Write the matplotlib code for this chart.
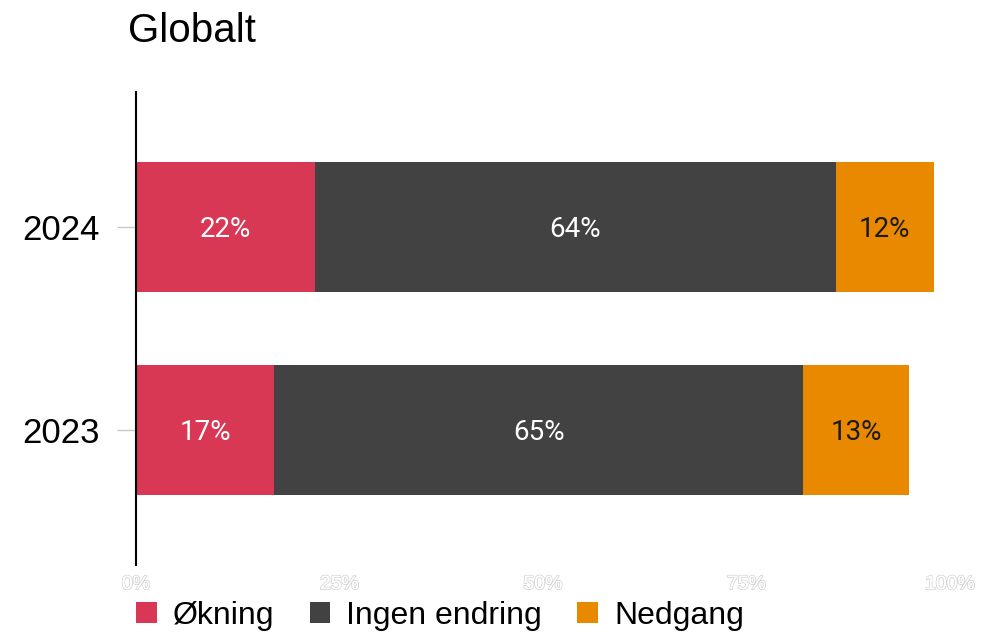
import matplotlib
matplotlib.use("Agg")
import matplotlib.pyplot as plt
import matplotlib.patheffects as pe
import numpy as np

years = ["2024", "2023"]
series_names = ["Økning", "Ingen endring", "Nedgang"]
okning = [22, 17]
ingen = [64, 65]
nedgang = [12, 13]
xticks = [0, 25, 50, 75, 100]
xtick_labels = ["0%", "25%", "50%", "75%", "100%"]

colors = ["#D93855", "#424242", "#E98900"]
label_colors = ["white", "white", "#1a1a1a"]

fig = plt.figure(figsize=(10, 6.33), dpi=100)
ax = fig.add_axes([0.136, 0.1074, 0.814, 0.7473])

ypos = np.array([1, 0])
left = np.zeros(len(years))
series = [okning, ingen, nedgang]
for name, vals, c, lc in zip(series_names, series, colors, label_colors):
    vals = np.array(vals, dtype=float)
    bars = ax.barh(ypos, vals, left=left, height=0.64, color=c, label=name, linewidth=0)
    for b, v, l in zip(bars, vals, left):
        ax.text(l + v / 2, b.get_y() + b.get_height() / 2 - 0.012, f"{int(v)}%",
                ha="center", va="center", color=lc, fontsize=20,
                family=["Roboto", "DejaVu Sans"])
    left = left + vals

ax.set_xlim(0, 100)
ax.set_ylim(-0.665, 1.665)
ax.set_yticks(ypos)
ax.set_yticklabels(years, fontsize=25, family=["Liberation Sans", "DejaVu Sans"])
ax.tick_params(axis="y", length=14, width=1, color="#c8c8c8", pad=12)
ax.set_xticks(xticks)
ax.set_xticklabels(xtick_labels, fontsize=14, color="white",
                   family=["Liberation Sans", "DejaVu Sans"])
for t in ax.get_xticklabels():
    t.set_path_effects([pe.withStroke(linewidth=1.2, foreground="#d0d0d0"), pe.Normal()])
ax.tick_params(axis="x", length=0, pad=8)
for s in ["top", "right", "bottom"]:
    ax.spines[s].set_visible(False)
ax.spines["left"].set_linewidth(1.5)
ax.spines["left"].set_color("black")

fig.text(0.128, 1 - 42 / 633, "Globalt", fontsize=29, va="baseline", ha="left",
         family=["Liberation Sans", "DejaVu Sans"])

handles, labels = ax.get_legend_handles_labels()
leg = fig.legend(handles, labels, loc="lower left", bbox_to_anchor=(0.117, -0.027),
                 ncol=3, frameon=False, prop={"family": "Liberation Sans", "size": 23},
                 handlelength=0.65, handleheight=0.65, handletextpad=0.5,
                 columnspacing=1.1, borderaxespad=0.2)

fig.savefig("out.png", dpi=100)
